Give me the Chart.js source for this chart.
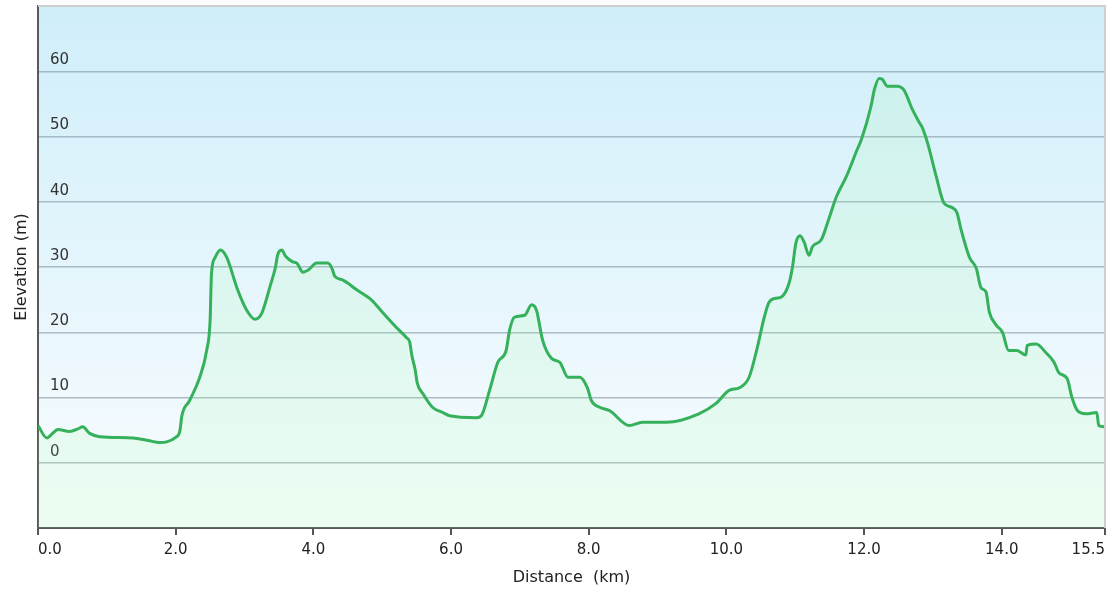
<!DOCTYPE html>
<html>
<head>
<meta charset="utf-8">
<title>Elevation profile</title>
<script src="https://cdn.jsdelivr.net/npm/chart.js@4.4.1/dist/chart.umd.min.js"></script>
<style>
  html, body { margin: 0; padding: 0; background: #ffffff; }
  canvas { display: block; }
</style>
</head>
<body>
<canvas id="profileChart" width="1111" height="595"></canvas>
<script>
// Distance along the route (km) and elevation (m)
const distanceKm = [
  0.00, 0.13, 0.22, 0.29, 0.46, 0.58, 0.65, 0.75, 0.90, 1.38,
  1.60, 1.77, 1.87, 2.00, 2.06, 2.09, 2.20, 2.35, 2.45, 2.50,
  2.52, 2.57, 2.65, 2.74, 2.90, 3.03, 3.15, 3.25, 3.37, 3.45,
  3.48, 3.54, 3.60, 3.70, 3.76, 3.85, 3.92, 4.05, 4.21, 4.27,
  4.31, 4.43, 4.63, 4.85, 5.00, 5.20, 5.35, 5.40, 5.43, 5.48,
  5.51, 5.59, 5.73, 5.88, 5.98, 6.37, 6.44, 6.56, 6.68, 6.80,
  6.85, 6.92, 7.07, 7.17, 7.24, 7.33, 7.46, 7.58, 7.70, 7.87,
  7.98, 8.04, 8.16, 8.30, 8.59, 8.78, 9.13, 9.60, 9.85, 10.04,
  10.19, 10.33, 10.45, 10.55, 10.62, 10.72, 10.80, 10.91, 10.96, 11.01,
  11.07, 11.13, 11.20, 11.25, 11.38, 11.47, 11.60, 11.74, 11.90, 11.96,
  12.10, 12.15, 12.22, 12.26, 12.34, 12.44, 12.48, 12.58, 12.70, 12.80,
  12.84, 12.92, 13.05, 13.16, 13.28, 13.35, 13.41, 13.53, 13.63, 13.70,
  13.77, 13.82, 13.92, 14.01, 14.10, 14.22, 14.35, 14.37, 14.50, 14.64,
  14.76, 14.83, 14.95, 15.02, 15.10, 15.22, 15.38, 15.41, 15.49
];
const elevationM = [
  5.7, 3.8, 4.6, 5.1, 4.8, 5.2, 5.5, 4.5, 4.0, 3.8,
  3.4, 3.1, 3.2, 3.9, 4.8, 7.2, 9.5, 13.1, 17.2, 21.8,
  29.0, 31.4, 32.6, 31.5, 26.5, 23.4, 22.0, 22.9, 27.0, 30.0,
  31.8, 32.6, 31.6, 30.8, 30.6, 29.2, 29.5, 30.6, 30.6, 29.8,
  28.6, 28.0, 26.5, 24.9, 23.1, 20.8, 19.2, 18.5, 16.5, 14.2,
  12.2, 10.6, 8.5, 7.7, 7.2, 6.9, 7.2, 11.1, 15.4, 17.2,
  20.3, 22.3, 22.6, 24.2, 23.4, 18.8, 16.0, 15.4, 13.1, 13.1,
  11.5, 9.5, 8.5, 8.0, 5.7, 6.2, 6.2, 7.5, 9.1, 11.1,
  11.5, 13.1, 17.7, 22.3, 24.6, 25.2, 25.4, 27.5, 30.0, 33.7,
  34.8, 33.8, 31.8, 33.1, 34.2, 36.8, 40.8, 43.8, 48.0, 49.5,
  54.6, 57.2, 58.9, 58.8, 57.7, 57.7, 57.7, 57.1, 54.2, 52.2,
  51.5, 49.1, 43.8, 39.8, 39.1, 38.3, 35.7, 31.5, 29.8, 26.8,
  26.2, 23.1, 21.1, 20.0, 17.2, 17.2, 16.5, 18.0, 18.2, 16.9,
  15.4, 13.8, 12.9, 10.0, 8.0, 7.5, 7.7, 5.7, 5.5
];

// Tick positions shown on the axes
const xTicks = [0, 2, 4, 6, 8, 10, 12, 14, 15.5];
const yTicks = [0, 10, 20, 30, 40, 50, 60];

const points = distanceKm.map((d, i) => ({ x: d, y: elevationM[i] }));
const fontFamily = '"DejaVu Sans", Verdana, sans-serif';

// Sky-like gradient behind the plot and the light frame on top/right
const plotBackground = {
  id: 'plotBackground',
  beforeDraw(chart) {
    const { ctx, chartArea: a } = chart;
    const grad = ctx.createLinearGradient(0, a.top, 0, a.bottom);
    grad.addColorStop(0, 'rgb(207,238,250)');
    grad.addColorStop(1, 'rgb(250,253,255)');
    ctx.save();
    ctx.fillStyle = grad;
    ctx.fillRect(a.left, a.top, a.right - a.left, a.bottom - a.top);
    ctx.restore();
  },
  afterDraw(chart) {
    const { ctx, chartArea: a } = chart;
    ctx.save();
    ctx.strokeStyle = '#cfcfcf';
    ctx.lineWidth = 2;
    ctx.beginPath();
    ctx.moveTo(a.left, a.top);
    ctx.lineTo(a.right, a.top);
    ctx.lineTo(a.right, a.bottom);
    ctx.stroke();
    ctx.restore();
  }
};

const ctxProfile = document.getElementById('profileChart').getContext('2d');
const profileChart = new Chart(ctxProfile, {
  type: 'line',
  data: {
    datasets: [{
      label: 'Elevation',
      data: points,
      borderColor: '#34b15a',
      borderWidth: 3,
      backgroundColor: 'rgba(150,255,150,0.12)',
      fill: 'start',
      pointRadius: 0,
      cubicInterpolationMode: 'monotone'
    }]
  },
  options: {
    responsive: false,
    animation: false,
    layout: { padding: { left: 0, right: 6, top: 6, bottom: 0 } },
    plugins: {
      legend: { display: false },
      tooltip: { enabled: false }
    },
    scales: {
      x: {
        type: 'linear',
        min: 0,
        max: 15.5,
        afterBuildTicks: scale => { scale.ticks = xTicks.map(v => ({ value: v })); },
        afterFit: scale => { scale.height = 67; },
        ticks: {
          align: 'inner',
          autoSkip: false,
          maxRotation: 0,
          padding: 6,
          color: '#222',
          font: { family: fontFamily, size: 15 },
          callback: v => v.toFixed(1)
        },
        grid: { drawOnChartArea: false, tickLength: 7, color: '#555', lineWidth: 2 },
        border: { color: '#5a5a5a', width: 2 },
        title: {
          display: true,
          text: 'Distance  (km)',
          color: '#222',
          font: { family: fontFamily, size: 16 },
          padding: { top: 0, bottom: 8 }
        }
      },
      y: {
        min: -10,
        max: 70,
        afterBuildTicks: scale => { scale.ticks = yTicks.map(v => ({ value: v })); },
        // labels sit inside the plot, so no extra room above/below is needed
        afterFit: scale => {
          scale.width = 38;
          scale.paddingTop = 0;
          scale.paddingBottom = 0;
        },
        ticks: {
          mirror: true,
          padding: 12,
          labelOffset: -11,
          color: '#333',
          font: { family: fontFamily, size: 15 }
        },
        grid: { drawTicks: false, color: 'rgba(110,130,140,0.5)', lineWidth: 1.5 },
        border: { color: '#5a5a5a', width: 2 },
        title: {
          display: true,
          text: 'Elevation (m)',
          color: '#222',
          font: { family: fontFamily, size: 16 },
          padding: { top: 12, bottom: 0 }
        }
      }
    }
  },
  plugins: [plotBackground]
});
</script>
</body>
</html>
